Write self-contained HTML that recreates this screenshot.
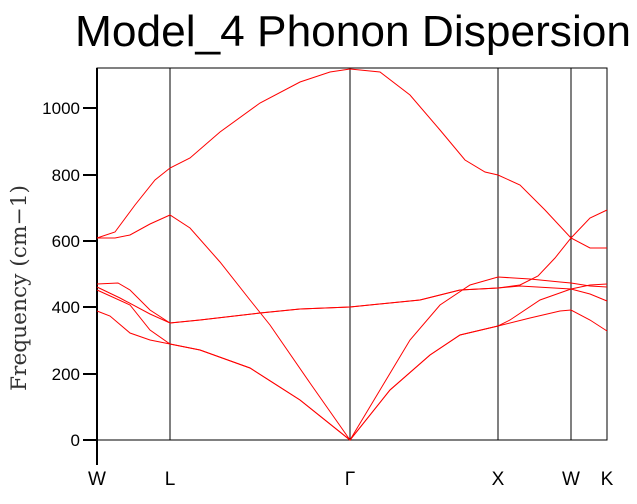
<!DOCTYPE html>
<html><head><style>body{margin:0;background:#fff}svg{display:block}</style></head><body>
<svg width="637" height="504" viewBox="0 0 637 504" xmlns="http://www.w3.org/2000/svg">
<text x="353" y="46" text-anchor="middle" font-family="Liberation Sans, sans-serif" font-size="44" textLength="556" lengthAdjust="spacingAndGlyphs">Model_4 Phonon Dispersion</text>
<text transform="translate(26,288) rotate(-90)" text-anchor="middle" font-family="DejaVu Serif, serif" font-size="21" fill="#333" textLength="206" lengthAdjust="spacingAndGlyphs">Frequency (cm−1)</text>
<g stroke="#000" fill="none">
<rect x="97" y="68" width="510" height="372" stroke-width="1"/>
<line x1="97" y1="68" x2="97" y2="465" stroke-width="2"/>
<line x1="170" y1="68" x2="170" y2="440"/>
<line x1="350" y1="68" x2="350" y2="440"/>
<line x1="498" y1="68" x2="498" y2="440"/>
<line x1="571" y1="68" x2="571" y2="440"/>
<g stroke-width="2">
<line x1="83" y1="440" x2="97" y2="440"/><line x1="83" y1="374" x2="97" y2="374"/>
<line x1="83" y1="307" x2="97" y2="307"/><line x1="83" y1="241" x2="97" y2="241"/>
<line x1="83" y1="175" x2="97" y2="175"/><line x1="83" y1="108" x2="97" y2="108"/></g>
</g>
<g font-family="Liberation Sans, sans-serif" font-size="17" text-anchor="end">
<text x="80" y="446">0</text><text x="80" y="380">200</text><text x="80" y="313">400</text>
<text x="80" y="247">600</text><text x="80" y="181">800</text><text x="80" y="114">1000</text></g>
<g font-family="Liberation Sans, sans-serif" font-size="19" text-anchor="middle">
<text x="97" y="485">W</text><text x="170" y="485">L</text><text x="350" y="485">Γ</text>
<text x="498" y="485">X</text><text x="571" y="485">W</text><text x="607" y="485">K</text></g>
<g stroke="#f00" fill="none" stroke-width="1">
<polyline points="97,238 115,232 135,205 155,180 170,168 190,158 220,132 260,103 300,82 330,72 350,69 380,72 410,95 440,130 465,160 485,172 498,175 520,185 545,210 571,238 590,248 607,248"/>
<polyline points="97,238 115,238 130,235 150,224 170,215 190,228 220,262 250,300 270,325 310,383 350,440 380,390 410,340 440,305 470,285 498,277 530,279 560,282 571,283 590,286 607,287"/>
<polyline points="97,284 118,283 130,290 150,310 170,323 200,320 260,313 300,309 350,307 420,300 460,290 498,288 520,286 571,289 590,294 607,301"/>
<polyline points="97,287 120,298 150,314 170,323 200,320 260,313 300,309 350,307 420,300 460,290 498,288 520,285 538,276 555,258 571,238 590,218 607,210"/>
<polyline points="97,290 130,305 150,330 170,344 200,350 250,368 300,400 350,440 390,390 430,355 460,335 498,326 510,320 540,300 571,289 590,285 607,284"/>
<polyline points="97,311 110,316 130,333 150,340 170,344 200,350 250,368 300,400 350,440 390,390 430,355 460,335 498,326 530,318 560,311 571,310 590,320 607,331"/>
</g>
</svg>
</body></html>
